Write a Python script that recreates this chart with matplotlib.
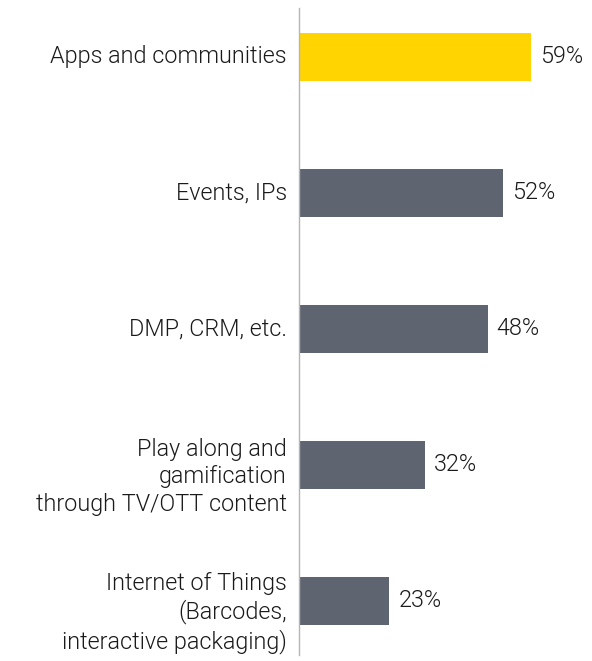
import matplotlib
matplotlib.use("Agg")
import matplotlib.pyplot as plt

categories = ["Apps and communities", "Events, IPs", "DMP, CRM, etc.",
              "Play along and\ngamification\nthrough TV/OTT content",
              "Internet of Things\n(Barcodes,\ninteractive packaging)"]
values = [59, 52, 48, 32, 23]
colors = ["#FFD400", "#5E6571", "#5E6571", "#5E6571", "#5E6571"]

plt.rcParams['font.family'] = ['Roboto', 'DejaVu Sans']
fig = plt.figure(figsize=(5.92, 6.61), dpi=100)
W, H = 592, 661
ax = fig.add_axes([299 / W, (H - 655) / H, (W - 299) / W, (655 - 8) / H])

pos = list(range(len(values)))
ax.barh(pos, values, height=0.353, color=colors)
ax.set_ylim(4.4, -0.36)
ax.set_xlim(0, 293 / 3.93)

for p, v in zip(pos, values):
    ax.text(v + 2.3, p, f"{v}%", va="center", ha="left", fontsize=16.8,
            color="#1a1a1a", fontweight=300)

for p, c in zip(pos, categories):
    shift = 0.09 if "\n" in c else 0.0
    ax.text(-3.1, p + shift, c, va="center", ha="right", fontsize=16.8,
            color="#1a1a1a", linespacing=1.25, fontweight=300)

for s in ["top", "right", "bottom"]:
    ax.spines[s].set_visible(False)
ax.spines["left"].set_color("#b5b5b5")
ax.spines["left"].set_linewidth(1)
ax.set_xticks([])
ax.set_yticks([])

fig.savefig("out.png", dpi=100)
